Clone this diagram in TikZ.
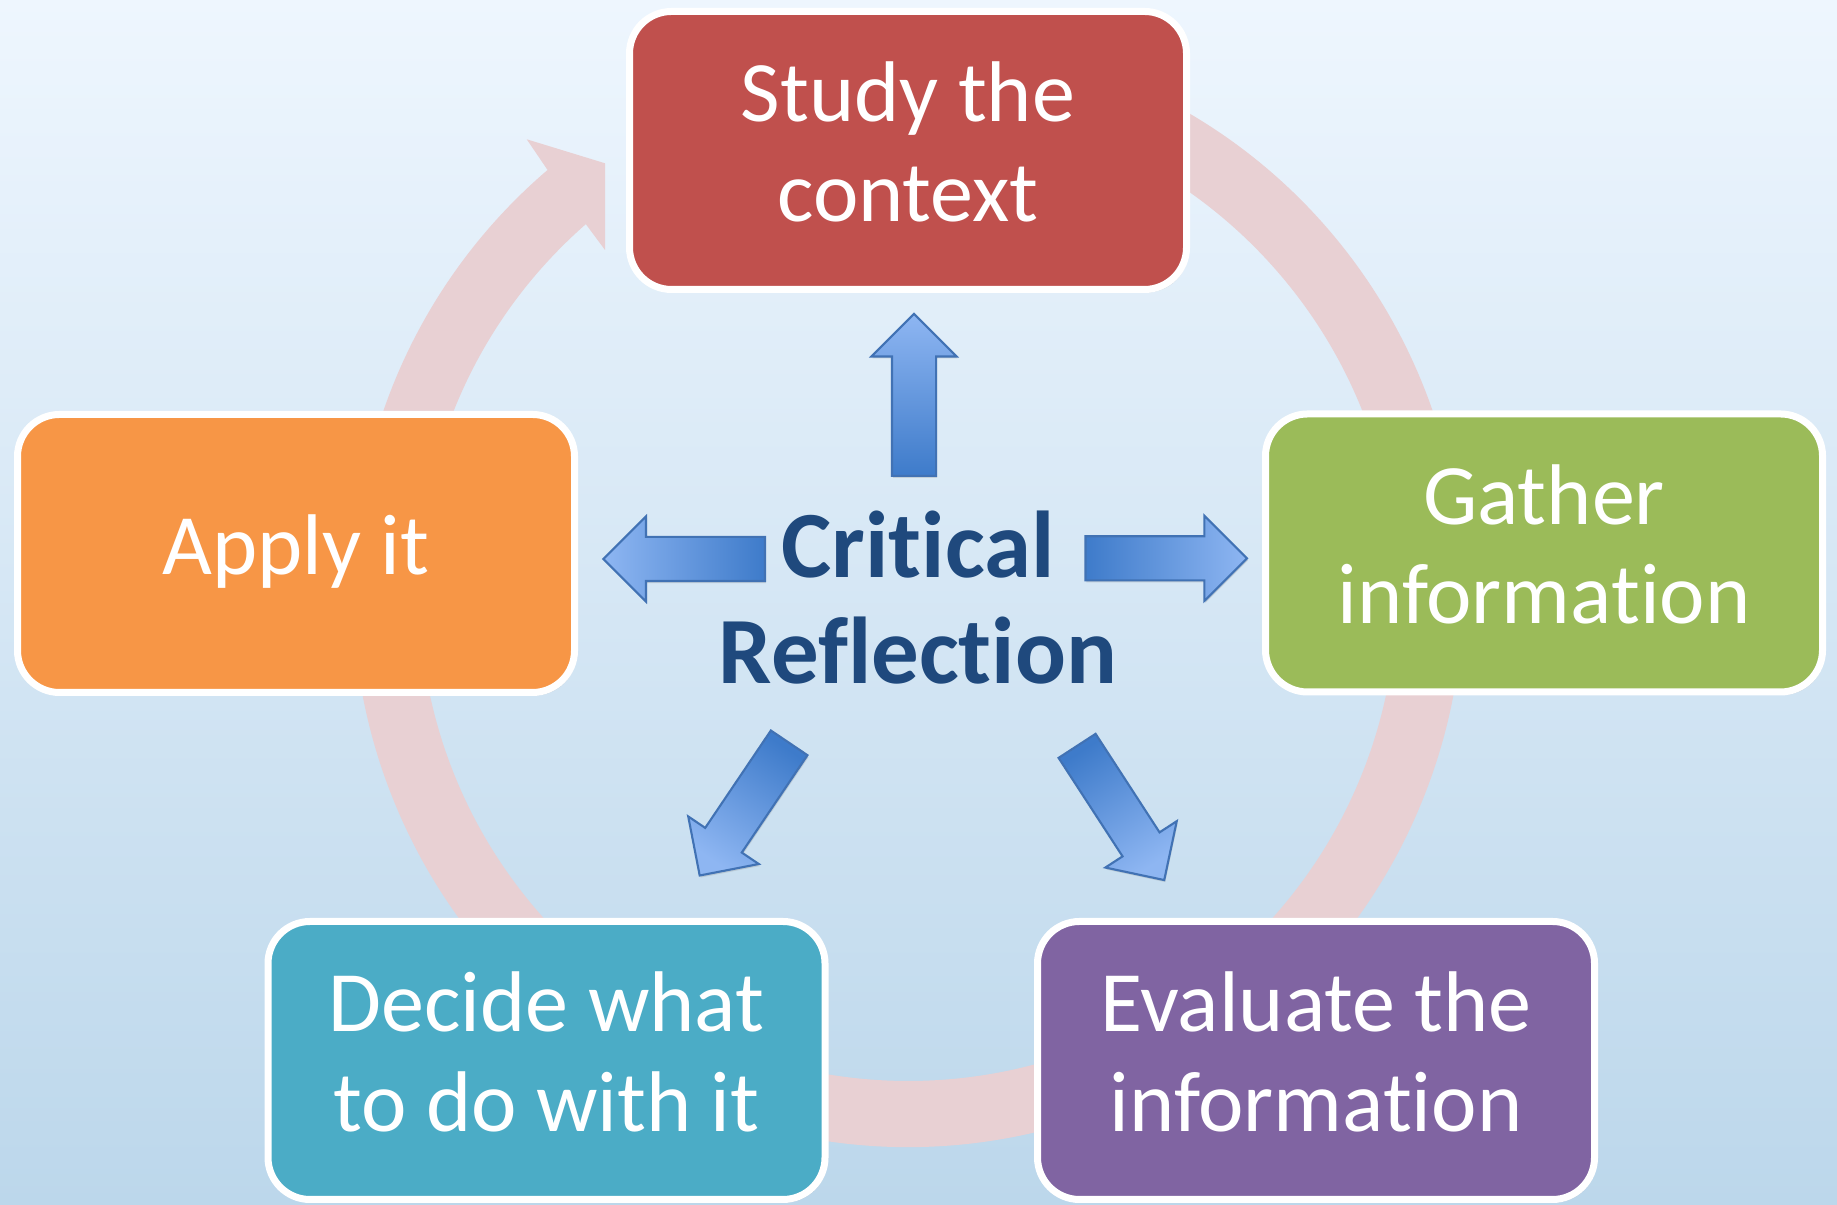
\documentclass[tikz,border=0pt]{standalone}
\usepackage{fontspec}
\setmainfont{Carlito}[Ligatures=NoCommon]
\usepackage{tikz}
\usetikzlibrary{shapes,arrows,positioning,calc,shadows}
\usepackage{xcolor}
\definecolor{bgtop}{HTML}{EEF6FE}
\definecolor{bgbottom}{HTML}{BCD7EB}
\definecolor{ringpink}{HTML}{E8D0D3}
\definecolor{studyred}{HTML}{C0504D}
\definecolor{applyorange}{HTML}{F79646}
\definecolor{gathergreen}{HTML}{9BBB59}
\definecolor{decideaqua}{HTML}{4BACC6}
\definecolor{evalpurple}{HTML}{8064A2}
\definecolor{critblue}{HTML}{1F497D}
\definecolor{arrowlight}{HTML}{8EB6F2}
\definecolor{arrowdark}{HTML}{3E7BCA}
\definecolor{arrowline}{HTML}{4172B4}

\begin{document}
\begin{tikzpicture}[
    stepbox/.style={draw=white, line width=0.07cm, rounded corners=0.42cm, minimum width=5.57cm, minimum height=2.78cm,
        text=white, align=center, text depth=5pt, font=\fontsize{24.5}{28.4}\selectfont,
        drop shadow={shadow xshift=0.02cm, shadow yshift=-0.03cm, opacity=0.3}},
    bluearrow/.style={single arrow, draw=arrowline, line width=0.6pt, minimum width=0.83cm, single arrow head extend=0.205cm,
        single arrow tip angle=90, inner sep=0.21cm, anchor=tail,
        bottom color=arrowdark, top color=arrowlight, shading angle=#1,
        drop shadow={shadow xshift=0.01cm, shadow yshift=-0.02cm, opacity=0.25}}
]
    \useasboundingbox (0,0) rectangle (18.37,12.05);
    \shade[top color=bgtop, bottom color=bgbottom] (0,0) rectangle (18.37,12.05);

    % the cycle ring behind the boxes
    \coordinate (hub) at (9.08,6.13);
    \fill[ringpink] ($(hub)+(70:5.55)$) arc[start angle=70, end angle=-229.5, radius=5.55]
        -- (5.267,10.657) -- (6.05,10.417) -- (6.05,9.55) -- (5.84,9.833)
        -- ($(hub)+(131.2:4.89)$) arc[start angle=-228.8, end angle=70, radius=4.89] -- cycle;

    \node[stepbox, fill=studyred] (study) at (9.08,10.545) {Study the\\context};
    \node[stepbox, fill=gathergreen] (gather) at (15.44,6.52) {Gather\\information};
    \node[stepbox, fill=evalpurple] (evaluate) at (13.16,1.445) {Evaluate the\\information};
    \node[stepbox, fill=decideaqua] (decide) at (5.465,1.445) {Decide what\\to do with it};
    \node[stepbox, fill=applyorange] (apply) at (2.96,6.515) {Apply it};

    \node[font=\bfseries\fontsize{27}{30}\selectfont, text=critblue, align=center] (core) at (9.18,6.075) {Critical\\Reflection};

    % block arrows, dark at the tail and light at the tip
    \node[bluearrow=0, minimum height=1.62cm, rotate=90] (toStudy) at (9.14,7.28) {};
    \node[bluearrow=90, minimum height=1.615cm, rotate=180] (toApply) at (7.66,6.46) {};
    \node[bluearrow=-90, minimum height=1.615cm] (toGather) at (10.844,6.467) {};
    \node[bluearrow=146, minimum height=1.6cm, rotate=236] (toDecide) at (7.8975,4.63) {};
    \node[bluearrow=213, minimum height=1.6cm, rotate=303] (toEvaluate) at (10.765,4.60) {};
\end{tikzpicture}
\end{document}
